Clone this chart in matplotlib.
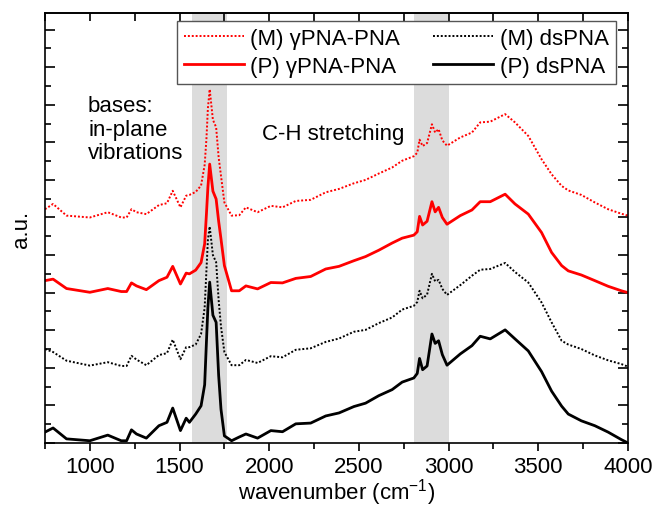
import numpy as np
import matplotlib
matplotlib.use("Agg")
import matplotlib.pyplot as plt
from matplotlib.ticker import MultipleLocator

plt.rcParams["font.family"] = ["Liberation Sans", "DejaVu Sans"]
plt.rcParams["mathtext.default"] = "regular"
plt.rcParams["font.size"] = 16

# Wavenumber grid (cm^-1)
wn = [750, 795, 870, 1000, 1100, 1175, 1205, 1232, 1260, 1315, 1385, 1430,
      1462, 1505, 1537, 1555, 1590, 1620, 1640, 1650, 1658, 1668, 1686, 1704,
      1718, 1731, 1750, 1790, 1833, 1870, 1935, 2009, 2074, 2148, 2231, 2315,
      2389, 2472, 2537, 2611, 2685, 2741, 2806, 2825, 2838, 2855, 2880, 2907,
      2925, 2944, 2965, 2991, 3065, 3130, 3176, 3232, 3315, 3370, 3444, 3518,
      3574, 3630, 3667, 3740, 3815, 3889, 3963, 4000]

# Offset spectra (a.u.)
p_ds = [0.29, 0.40, 0.11, 0.06, 0.21, 0.06, 0.06, 0.35, 0.24, 0.13, 0.46, 0.55,
        0.93, 0.33, 0.66, 0.55, 0.77, 0.99, 1.55, 2.70, 3.60, 4.28, 3.40, 3.21,
        1.80, 0.90, 0.19, 0.06, 0.16, 0.24, 0.13, 0.33, 0.30, 0.51, 0.53, 0.72,
        0.80, 0.97, 1.06, 1.26, 1.42, 1.62, 1.73, 1.85, 2.25, 1.95, 2.05, 2.90,
        2.65, 2.72, 2.35, 2.07, 2.37, 2.59, 2.84, 2.77, 3.01, 2.77, 2.45, 1.90,
        1.38, 0.98, 0.77, 0.59, 0.46, 0.29, 0.09, 0.00]

m_ds = [2.50, 2.42, 2.19, 2.06, 2.15, 2.05, 2.05, 2.32, 2.22, 2.07, 2.34, 2.39,
        2.75, 2.23, 2.55, 2.55, 2.62, 2.90, 3.60, 4.60, 5.40, 5.76, 5.00, 4.81,
        3.80, 3.10, 2.42, 2.07, 2.07, 2.21, 2.13, 2.31, 2.28, 2.48, 2.52, 2.69,
        2.78, 2.96, 3.01, 3.19, 3.34, 3.55, 3.65, 3.75, 4.05, 3.85, 3.95, 4.50,
        4.30, 4.34, 4.10, 3.94, 4.20, 4.45, 4.61, 4.63, 4.79, 4.55, 4.27, 3.74,
        3.21, 2.72, 2.62, 2.50, 2.33, 2.20, 2.10, 2.03]

p_gpna = [4.32, 4.36, 4.11, 4.01, 4.11, 4.03, 4.03, 4.26, 4.18, 4.08, 4.32, 4.41,
          4.70, 4.23, 4.52, 4.50, 4.60, 4.80, 5.30, 6.10, 6.80, 7.42, 6.70, 6.49,
          5.90, 5.43, 4.72, 4.05, 4.05, 4.18, 4.10, 4.27, 4.26, 4.38, 4.43, 4.63,
          4.70, 4.85, 4.96, 5.13, 5.32, 5.45, 5.53, 5.62, 6.03, 5.80, 5.90, 6.42,
          6.15, 6.27, 6.00, 5.82, 6.05, 6.20, 6.42, 6.42, 6.62, 6.36, 6.09, 5.60,
          5.07, 4.72, 4.58, 4.47, 4.32, 4.17, 4.05, 4.00]

m_gpna = [6.22, 6.36, 6.05, 6.00, 6.14, 6.00, 6.00, 6.22, 6.14, 6.09, 6.33, 6.38,
          6.71, 6.27, 6.58, 6.60, 6.68, 6.85, 7.40, 8.10, 8.90, 9.41, 8.60, 8.40,
          7.60, 7.11, 6.40, 6.05, 6.06, 6.27, 6.14, 6.31, 6.27, 6.44, 6.47, 6.67,
          6.76, 6.91, 7.00, 7.17, 7.33, 7.51, 7.63, 7.72, 8.07, 7.90, 7.98, 8.48,
          8.26, 8.35, 8.05, 7.91, 8.13, 8.26, 8.53, 8.55, 8.75, 8.53, 8.17, 7.55,
          7.15, 6.84, 6.72, 6.60, 6.40, 6.22, 6.10, 6.05]

# Highlighted regions
bands = [(1568, 1762), (2805, 3002)]

fig = plt.figure(figsize=(6.55, 5.10), dpi=100)
ax = fig.add_axes([0.0687, 0.1294, 0.8901, 0.8431])

for lo, hi in bands:
    ax.axvspan(lo, hi, color="#dcdcdc", lw=0, zorder=0)

ax.plot(wn, m_gpna, color="red", ls=(0, (1, 1)), lw=1.4, label="(M) γPNA-PNA")
ax.plot(wn, p_gpna, color="red", lw=2, label="(P) γPNA-PNA")
ax.plot(wn, m_ds, color="black", ls=(0, (1, 1)), lw=1.4, label="(M) dsPNA")
ax.plot(wn, p_ds, color="black", lw=2, label="(P) dsPNA")

ax.text(990, 9.25, "bases:\nin-plane\nvibrations", ha="left", va="top",
        fontsize=16, linespacing=1.15)
ax.text(1960, 8.1, "C-H stretching", ha="left", va="baseline", fontsize=16)

ax.set_xlim(750, 4000)
ax.set_ylim(0, 11.44)
ax.xaxis.set_major_locator(MultipleLocator(500))
ax.xaxis.set_minor_locator(MultipleLocator(250))
ax.yaxis.set_major_locator(MultipleLocator(1))
ax.yaxis.set_minor_locator(MultipleLocator(0.5))
ax.tick_params(axis="x", which="major", direction="out", length=6, width=1.2,
               pad=3, labelsize=16)
ax.tick_params(axis="x", which="minor", direction="out", length=4, width=1.2)
ax.tick_params(axis="y", which="major", direction="in", length=7, width=1.2,
               left=True, right=True, labelleft=False)
ax.tick_params(axis="y", which="minor", direction="in", length=4, width=1.2,
               left=True, right=True)
top = ax.secondary_xaxis("top")
top.xaxis.set_major_locator(MultipleLocator(500))
top.xaxis.set_minor_locator(MultipleLocator(250))
top.tick_params(which="both", direction="in", length=6, width=1.2, labeltop=False)
for s in list(ax.spines.values()) + list(top.spines.values()):
    s.set_linewidth(1.2)

ax.set_xlabel("wavenumber (cm$^{-1}$)", fontsize=16, labelpad=0)
ax.set_ylabel("a.u.", fontsize=16, labelpad=6)

ax.legend(loc="upper right", bbox_to_anchor=(0.979, 0.981), ncol=2,
          fontsize=16, frameon=True, fancybox=False, edgecolor="#555555",
          framealpha=1, handlelength=2.7, handletextpad=0.3,
          columnspacing=1.5, labelspacing=0.32, borderpad=0.3,
          borderaxespad=0)

plt.savefig("out.png", dpi=100)
